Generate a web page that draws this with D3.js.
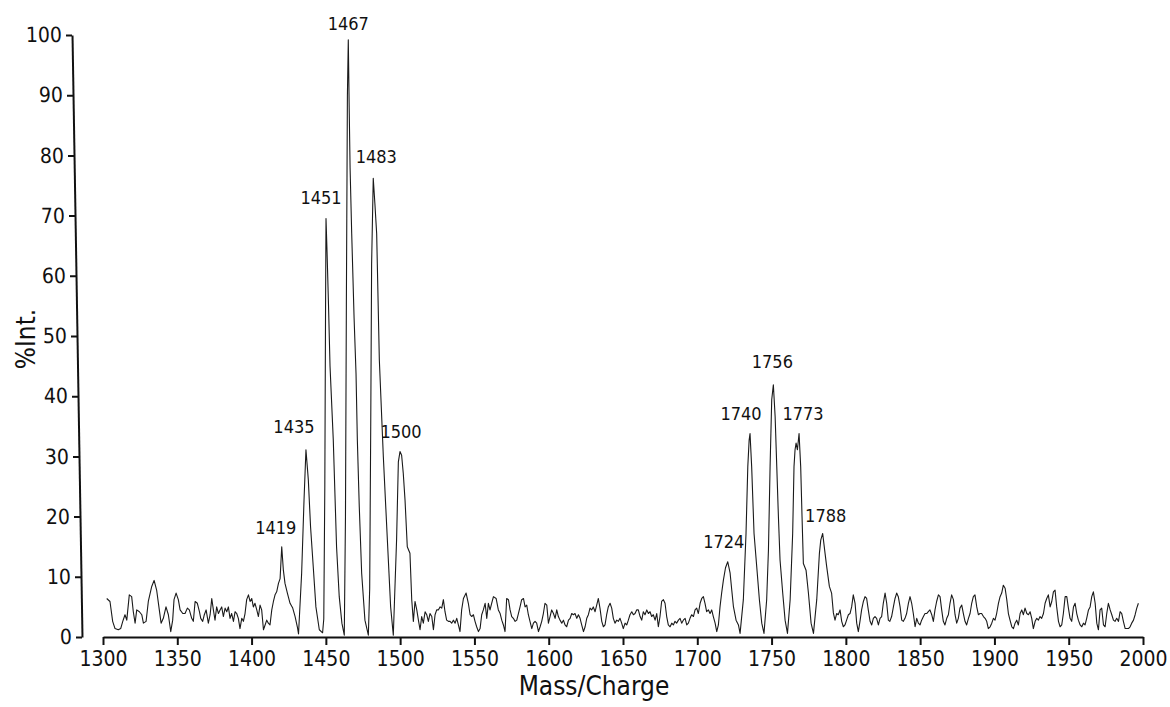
<!DOCTYPE html>
<html>
<head>
<meta charset="utf-8">
<script src="https://cdn.jsdelivr.net/npm/d3@7"></script>
<style>
  html, body { margin: 0; padding: 0; background: #fff; }
  svg { display: block; }
  text { font-family: "DejaVu Sans Condensed", "DejaVu Sans", sans-serif; fill: #111; }
</style>
</head>
<body>
<svg id="chart" width="1170" height="707"></svg>
<script>
// ---- Data (mass / charge vs. % intensity) ----
const mass = [
1302.5,1304.7,1306.5,1308.1,1310.3,1311.9,1313.3,1314.8,1316.0,1317.7,1319.3,1320.4,1321.6,1322.7,1324.5,1326.1,1327.2,1329.0,1330.5,1332.8,
1334.4,1336.1,1337.9,1339.1,1340.6,1342.4,1344.0,1345.6,1346.9,1347.8,1349.2,1350.7,1351.9,1353.7,1355.2,1356.8,1358.1,1359.7,1360.8,1362.0,
1363.5,1364.9,1365.8,1367.1,1368.2,1369.4,1370.9,1372.1,1373.2,1374.3,1375.4,1376.5,1377.7,1378.8,1379.9,1381.0,1382.2,1383.3,1384.4,1385.5,
1386.6,1387.8,1388.9,1390.0,1391.1,1392.2,1393.4,1394.5,1395.6,1396.7,1397.9,1399.0,1400.1,1401.2,1402.3,1403.5,1404.6,1405.7,1406.8,1408.0,
1409.1,1410.2,1411.3,1412.4,1413.6,1414.7,1415.8,1416.9,1418.1,1419.2,1420.3,1421.4,1422.5,1424.1,1425.9,1427.7,1429.3,1430.8,1431.6,
1433.7,1435.3,1436.6,1438.2,1439.7,1441.5,1443.3,1445.6,1447.8,1448.6,1449.3,1449.8,1450.1,1450.8,1451.8,1452.8,1455.0,1457.2,1459.0,1460.8,
1462.4,1463.2,1463.8,1464.5,1465.1,1465.7,1466.3,1467.4,1469.0,1470.3,1471.2,1472.5,1474.1,1476.3,1478.6,1479.5,1480.2,1480.8,1481.9,1483.0,
1484.2,1486.0,1488.7,1491.4,1493.6,1495.4,1497.6,1498.8,1499.9,1501.0,1502.1,1503.3,1504.8,1506.6,
1507.8,1508.9,1510.0,1511.2,1512.3,1513.4,1514.5,1515.6,1516.8,1517.9,1519.0,1520.1,1521.3,1522.4,1523.5,1524.6,1525.7,1526.9,1528.0,1529.1,
1530.2,1531.3,1532.5,1533.6,1534.7,1535.8,1537.0,1538.1,1539.2,1540.3,1541.4,1542.6,1544.4,1545.9,1547.1,1548.2,1549.3,1550.4,1551.5,1552.7,
1553.8,1554.9,1556.0,1557.2,1558.3,1559.4,1560.5,1561.6,1562.8,1564.6,1566.1,1567.3,1568.4,1569.5,1570.6,1571.7,1572.9,1574.0,1575.1,1576.2,
1577.4,1578.5,1579.6,1580.7,1581.8,1583.0,1584.1,1585.2,1586.3,1587.4,1588.6,1589.7,1590.8,1591.9,1593.1,1594.2,1595.3,1596.4,1597.5,1598.7,
1599.8,1600.9,1602.0,1603.2,1604.3,1605.4,1606.5,1607.6,1608.8,1609.9,1611.0,1612.1,1613.3,1614.4,1615.5,1616.6,1617.7,1618.9,1620.0,1621.1,
1622.2,1623.4,1624.5,1625.6,1626.7,
1627.8,1628.9,1630.0,1631.2,1632.3,1633.4,1634.5,1635.7,1636.8,1637.9,1639.0,1640.1,1641.3,1642.4,1643.5,1644.6,1645.8,1646.9,1648.0,1649.1,
1650.2,1651.4,1652.5,1653.6,1654.7,1655.9,1657.0,1658.1,1659.2,1660.3,1661.5,1662.6,1663.7,1664.8,1666.0,1667.1,1668.2,1669.3,1670.4,1671.6,
1672.7,1673.8,1674.9,1676.0,1677.2,1678.3,1679.4,1680.5,1681.7,1682.8,1683.9,1685.0,1686.1,1687.3,1688.4,1689.5,1690.6,1691.8,1692.9,1694.0,
1695.1,1696.2,1697.4,1698.5,1699.6,1700.7,1701.9,1703.0,1704.1,1705.2,1706.3,1707.5,1708.6,1709.7,1710.8,1712.0,1713.1,1714.2,1715.3,1716.4,
1717.6,1719.0,1720.5,
1722.1,1723.2,1724.3,1726.1,1727.7,1728.8,1731.0,1732.8,1734.0,1734.9,1735.5,1736.6,1738.2,1740.0,1741.8,1743.4,1744.9,1746.7,1747.9,1749.0,
1750.1,1751.2,1752.4,1753.5,1754.6,1755.7,1757.5,1759.1,1760.7,1762.5,1764.2,1765.1,1765.8,1766.5,1767.4,1768.5,1769.6,1770.5,1771.4,1773.2,
1774.8,1776.6,1778.2,1780.4,1782.2,1783.1,1784.4,1786.0,1787.1,1788.9,1790.4,1791.6,
1792.7,1793.8,1794.9,1796.1,1797.2,1798.3,1799.4,1800.5,1801.7,1802.8,1803.9,1805.0,1806.2,1807.3,1808.4,1809.5,1810.6,1811.8,1812.9,1814.0,
1815.1,1816.3,1817.4,1818.5,1819.6,1820.7,1821.9,1823.0,1824.1,1825.2,1826.4,1827.5,1828.6,1829.6,1830.8,1832.0,1833.1,1834.2,1835.3,1836.5,
1837.6,1838.7,1839.8,1840.9,1842.1,1843.2,1844.3,1845.4,1846.6,1847.7,1848.8,1849.9,1851.0,1852.2,1853.3,1854.4,1855.5,1856.6,1857.8,1858.9,
1860.0,1861.1,1862.3,1863.4,1864.5,1865.6,1866.7,1867.9,1869.0,1870.1,1871.2,1872.4,1873.5,1874.6,1875.7,1876.8,1878.0,1879.1,1880.2,1881.3,
1882.5,1883.6,1884.7,1885.8,1886.9,1888.1,1889.2,1890.3,1891.4,1892.6,1893.7,1894.8,1895.9,
1897.1,1898.2,1899.3,1900.4,1901.5,1902.7,1903.8,1904.9,1906.0,1907.2,1908.3,1909.4,1910.5,1911.7,1912.8,1913.9,1915.0,1916.1,1917.3,1918.4,
1919.5,1920.6,1921.8,1922.9,1924.0,1925.1,1926.2,1927.4,1928.5,1929.6,1930.7,1931.8,1933.0,1934.1,1935.2,1936.3,1937.5,1938.6,1939.7,1940.8,
1941.9,1943.1,1944.2,1945.3,1946.4,1947.6,1948.7,1949.8,1950.9,1952.0,1953.2,1954.3,1955.4,1956.5,1957.7,1958.8,1959.9,1961.0,1962.1,1963.3,
1964.4,1965.5,1966.6,1967.8,1968.9,1970.0,1971.1,1972.2,1973.4,1974.5,1975.6,1976.7,1977.9,1979.0,1980.1,1981.2,1982.3,1983.5,1984.6,1985.7,
1986.8,1988.0,1989.1,1990.2,1991.3,1992.4,1993.6,1994.7,1995.8,1996.9
];
const intensity = [
6.4,5.9,2.6,1.4,1.2,1.4,2.6,3.7,2.8,7.0,6.7,4.2,2.3,4.5,4.2,3.7,2.3,2.6,5.9,8.4,
9.4,7.8,4.5,2.3,3.1,5.0,3.7,0.9,2.8,6.2,7.3,6.2,4.5,3.9,3.9,4.8,4.5,3.1,2.6,5.9,
5.6,4.2,3.1,2.6,3.7,4.5,2.3,3.7,6.4,4.5,2.8,5.0,3.9,4.5,5.0,3.4,4.8,4.2,5.0,3.1,
3.9,2.6,4.2,3.9,3.1,1.4,3.1,2.6,3.9,6.2,7.0,5.9,6.4,5.0,5.6,4.5,3.4,5.3,4.5,1.2,
2.0,2.8,2.3,2.0,4.5,5.9,7.0,7.5,8.9,9.7,15.0,11.1,8.9,7.3,5.6,4.8,3.4,1.7,0.5,
10.6,22.7,31.1,26.1,18.3,11.7,5.0,1.2,0.7,3.0,25,55,69.5,64,55,45,32.7,15.0,6.7,2.3,
0.3,20,55,90,99.2,88,78,67,53,43.8,32.7,21.6,10.6,2.8,0.3,8,35,62,76.2,72,
67,46,29.9,16.1,5.0,0.3,16.1,29.1,30.8,30.2,27.2,22.7,15.0,13.9,
6.2,2.6,5.9,4.5,2.8,1.2,3.4,2.3,4.2,3.7,2.6,3.9,3.4,1.2,3.7,4.5,4.5,5.0,4.8,6.2,
4.2,2.8,2.6,2.6,2.3,2.8,2.3,3.1,2.0,0.9,4.5,6.4,7.3,5.6,3.7,3.4,3.7,2.6,1.7,0.9,
1.4,3.7,4.5,5.6,3.1,5.6,4.5,5.6,6.7,6.4,4.5,3.9,2.8,2.0,0.9,6.4,6.2,4.5,3.4,3.1,
2.6,2.8,3.9,5.0,6.2,6.4,5.0,5.3,3.7,2.6,1.4,2.3,2.6,2.3,0.9,1.7,2.6,3.9,5.6,5.3,
2.3,3.4,4.5,3.9,3.1,4.5,3.4,2.8,2.3,2.8,2.0,1.7,2.8,3.1,3.9,3.7,3.9,3.1,3.7,3.1,
2.0,0.9,1.7,3.1,3.7,
4.8,4.5,5.0,4.2,5.3,6.4,4.8,2.6,1.7,2.0,3.7,5.0,5.6,4.8,3.1,2.3,2.8,2.6,3.1,2.3,
1.4,2.3,2.0,2.8,3.7,4.2,3.7,3.9,4.5,4.5,3.4,2.8,4.2,3.7,4.5,3.9,4.2,3.4,3.7,2.8,
3.9,1.7,3.4,5.9,6.2,5.6,3.4,2.0,1.7,2.3,2.0,2.6,2.3,2.8,3.1,2.3,2.8,3.1,2.0,2.3,
3.1,3.7,3.4,4.5,4.8,3.9,5.6,6.4,6.7,5.6,4.2,4.5,3.9,4.5,3.4,2.3,0.9,2.0,5.0,7.3,
9.5,11.5,12.5,
10.6,7.8,5.1,2.8,2.0,0.6,6.2,17.2,28.3,32.7,33.8,28.3,17.2,11.7,6.2,2.3,0.6,6.2,14.5,28.3,
39.4,41.9,36.6,28.3,20.0,12.8,7.3,2.8,0.6,6.2,17.2,28.3,31.1,32.2,31.1,33.8,28.3,20.0,12.2,11.1,
7.3,2.3,0.6,6.2,13.9,16.1,17.2,13.9,11.7,8.4,7.3,4.0,
2.8,3.9,3.7,4.5,2.6,1.7,2.0,2.8,3.7,3.9,5.0,7.0,5.6,2.3,0.9,2.6,4.5,5.9,6.7,6.4,
4.5,2.6,2.0,3.1,3.4,3.1,2.0,3.1,3.4,5.6,7.3,5.6,2.8,2.6,3.4,5.0,6.4,7.3,6.7,5.0,
2.8,2.6,3.1,3.9,5.6,6.7,5.6,3.9,1.7,3.1,2.3,2.0,2.8,3.4,3.9,3.9,4.2,4.5,3.7,2.6,
4.5,5.9,7.0,6.7,4.5,2.6,2.0,3.1,3.7,5.6,7.0,6.2,3.7,2.3,3.1,4.8,5.3,3.9,2.6,2.0,
3.1,3.9,5.6,6.7,7.0,5.0,3.7,3.9,3.9,3.4,3.1,2.6,1.4,
1.7,2.3,3.1,2.8,3.9,5.6,6.7,7.3,8.6,8.1,6.2,3.9,2.8,1.7,1.4,2.3,2.8,2.0,3.9,4.5,
3.7,4.8,3.9,3.7,4.2,3.1,1.4,2.6,3.1,2.8,3.4,3.1,3.9,5.6,6.4,7.0,5.0,5.9,7.5,7.8,
5.0,2.6,1.7,2.0,3.9,6.7,6.7,4.8,3.1,2.6,5.0,5.6,3.9,2.8,2.0,1.7,2.3,2.0,3.1,4.5,
5.0,6.7,7.5,5.6,2.3,1.2,4.5,4.8,2.0,1.7,3.9,5.6,4.5,3.7,2.8,2.6,3.1,2.6,4.2,3.9,
2.6,1.4,1.4,1.4,1.7,2.3,2.8,3.7,4.8,5.6
];

// Peak annotations
const peakLabels = ["1419","1435","1451","1467","1483","1500","1724","1740","1756","1773","1788"];
const peakMass = [1420.3,1436.6,1450.1,1465.1,1481.9,1499.9,1720.5,1735.5,1751.2,1768.5,1784.4];
const peakIntensity = [15.0,31.1,69.5,99.2,76.2,30.8,12.5,33.8,41.9,33.8,17.2];

// Axis ticks
const xTicks = [1300,1350,1400,1450,1500,1550,1600,1650,1700,1750,1800,1850,1900,1950,2000];
const yTicks = [0,10,20,30,40,50,60,70,80,90,100];
const xTitle = "Mass/Charge";
const yTitle = "%Int.";

// ---- Drawing ----
const svg = d3.select("#chart");
const x = d3.scaleLinear().domain([1300, 2000]).range([103, 1143]);
const y = d3.scaleLinear().domain([0, 100]).range([637, 35]);

const data = mass.map((m, i) => ({ m: m, v: intensity[i] }));

// x axis
const gx = svg.append("g")
  .attr("transform", "translate(0,637)")
  .call(d3.axisBottom(x).tickValues(xTicks).tickFormat(d3.format("d"))
        .tickSize(8).tickSizeOuter(0).tickPadding(6));
gx.select(".domain").attr("stroke", "#111").attr("stroke-width", 2);
gx.selectAll(".tick line").attr("stroke", "#111").attr("stroke-width", 2);
gx.selectAll(".tick text").attr("font-size", 21).attr("font-family", null).attr("fill", "#111");

// y axis (slightly skewed like the scanned original)
const skew = Math.tan(0.95 * Math.PI / 180);
const gy = svg.append("g")
  .attr("transform", `translate(${77 - 336 * skew},0) skewX(0.95)`)
  .call(d3.axisLeft(y).tickValues(yTicks).tickFormat(d3.format("d"))
        .tickSize(6).tickSizeOuter(0).tickPadding(4));
gy.select(".domain").attr("stroke", "#111").attr("stroke-width", 2);
gy.selectAll(".tick line").attr("stroke", "#111").attr("stroke-width", 2);
gy.selectAll(".tick text").attr("font-size", 21).attr("font-family", null).attr("fill", "#111");

// spectrum line
const line = d3.line().x(d => x(d.m)).y(d => y(d.v));
svg.append("path")
  .datum(data)
  .attr("d", line)
  .attr("fill", "none")
  .attr("stroke", "#1a1a1a")
  .attr("stroke-width", 1.1)
  .attr("stroke-linejoin", "round");

// peak labels
const labelDx = [-6,-12,-5,0,3,1,-4,-9,-1,4,3];
const labelDy = [-13,-17,-15,-10,-15,-14,-14,-14,-17,-14,-11];
svg.append("g").selectAll("text")
  .data(peakLabels)
  .join("text")
  .attr("x", (d, i) => x(peakMass[i]) + labelDx[i])
  .attr("y", (d, i) => y(peakIntensity[i]) + labelDy[i])
  .attr("text-anchor", "middle")
  .attr("font-size", 18)
  .text(d => d);

// axis titles
svg.append("text")
  .attr("x", 594).attr("y", 695)
  .attr("text-anchor", "middle")
  .attr("font-size", 26)
  .text(xTitle);

svg.append("text")
  .attr("transform", "translate(35,339) rotate(-90)")
  .attr("text-anchor", "middle")
  .attr("font-size", 26)
  .text(yTitle);
</script>
</body>
</html>
